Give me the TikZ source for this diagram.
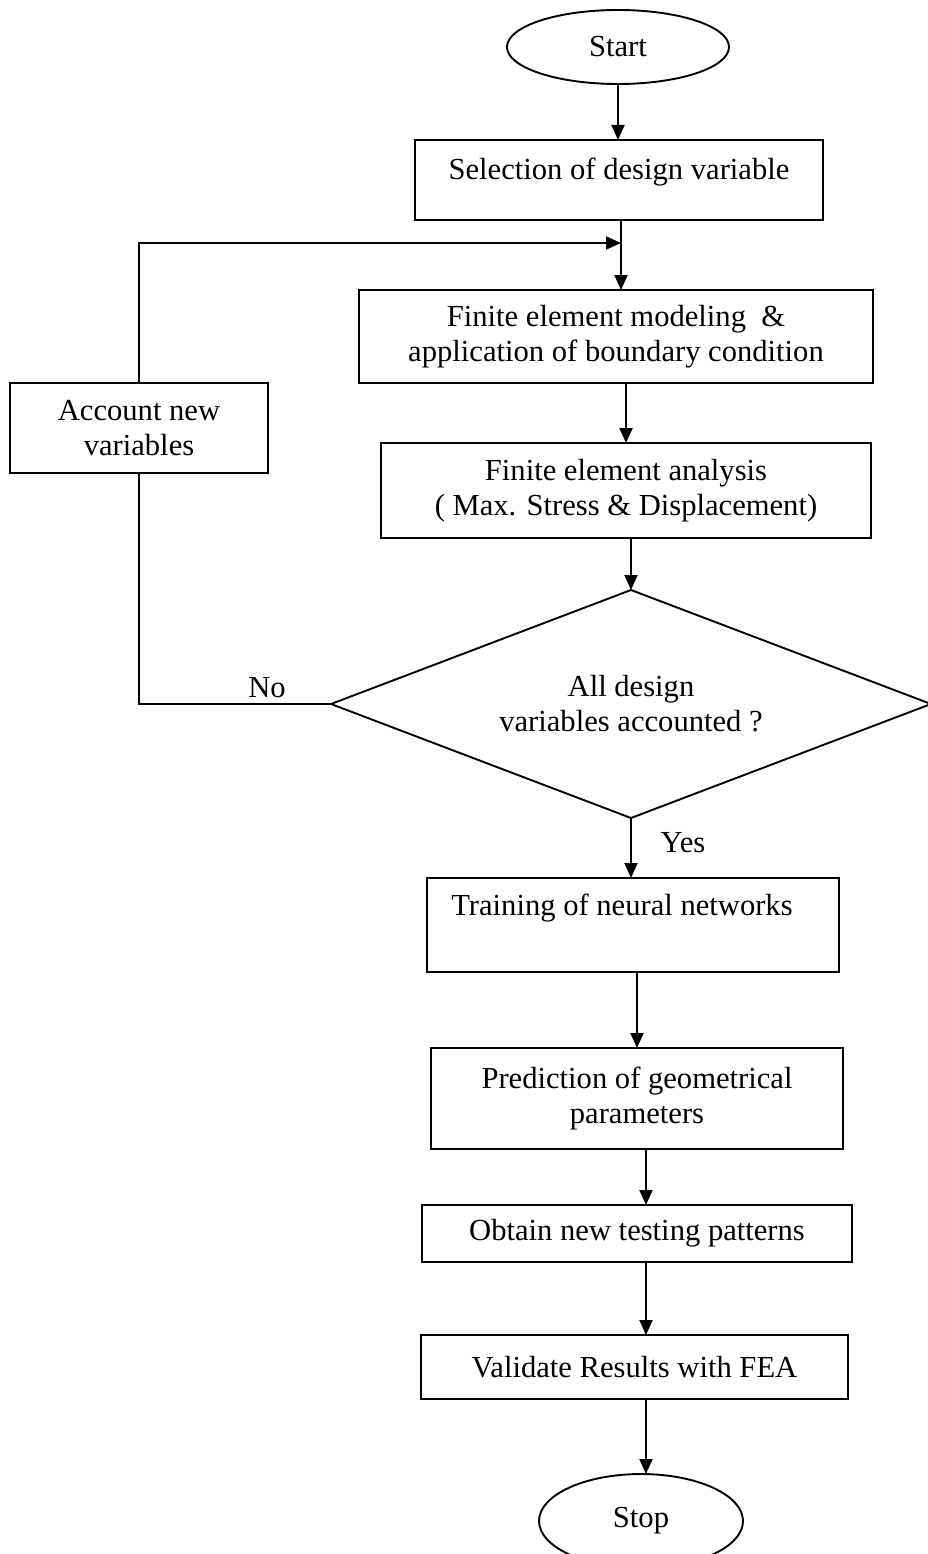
\documentclass[tikz,border=0pt]{standalone}
\usepackage{fontspec}
\setmainfont{Liberation Serif}
\usetikzlibrary{shapes.geometric,arrows.meta}
\begin{document}
\begin{tikzpicture}[x=1pt,y=-1pt,
  every node/.style={font=\fontsize{30.6}{35}\selectfont, inner sep=0pt, outer sep=0pt},
  box/.style={draw, line width=1.9pt, rectangle, align=center},
  term/.style={draw, ellipse, line width=1.9pt},
  decision/.style={draw, diamond, aspect=2.6316, line width=1.9pt, align=center},
  conn/.style={line width=1.9pt},
  arr/.style={conn, -{Triangle[length=15pt,width=13pt]}}
]
\useasboundingbox (0,0) rectangle (928,1554);

\node[term, minimum width=222pt, minimum height=74pt] (start) at (618,47) {Start};
\node[box, minimum width=408pt, minimum height=80pt, text height=21pt, text depth=21pt] (sel) at (619,180) {Selection of design variable};
\node[box, minimum width=514pt, minimum height=93pt] (fe) at (616,336.5) {Finite element modeling~ \&\\application of boundary condition};
\node[box, minimum width=490pt, minimum height=95pt] (fea) at (626,490.5) {Finite element analysis\\(~Max. Stress \& Displacement)};
\node[box, minimum width=258pt, minimum height=90pt] (acc) at (139,428) {Account new\\variables};
\node[decision, minimum width=600pt, minimum height=228pt] (dec) at (631,704) {All design\\variables accounted ?};
\node[box, minimum width=412pt, minimum height=94pt, text height=21pt, text depth=41pt] (train) at (633,925) {Training of neural networks\hspace{22pt}};
\node[box, minimum width=412pt, minimum height=101pt] (pred) at (637,1098.5) {Prediction of geometrical\\parameters};
\node[box, minimum width=430pt, minimum height=57pt] (obt) at (637,1233.5) {Obtain new testing patterns};
\node[box, minimum width=427pt, minimum height=64pt] (val) at (634.5,1367) {Validate Results with FEA};
\node[term, minimum width=204pt, minimum height=94pt] (stop) at (641,1521) {Stop};

\node (no) at (267,688) {No};
\node (yes) at (683,843) {Yes};

\coordinate (join) at (621,243);
\coordinate (ax) at (646,0);

\draw[arr] (start.south) -- (sel.north -| start.south);
\draw[arr] (sel.south -| join) -- (fe.north -| join);
\draw[conn] (dec.west) -- (dec.west -| acc.south) -- (acc.south);
\draw[arr] (acc.north) |- (join);
\draw[arr] (fe.south -| fea.north) -- (fea.north);
\draw[arr] (fea.south -| dec.north) -- (dec.north);
\draw[arr] (dec.south) -- (dec.south |- train.north);
\draw[arr] (train.south -| pred.north) -- (pred.north);
\draw[arr] (pred.south -| ax) -- (obt.north -| ax);
\draw[arr] (obt.south -| ax) -- (val.north -| ax);
\draw[arr] (val.south -| ax) -- (stop.north -| ax);
\end{tikzpicture}
\end{document}
